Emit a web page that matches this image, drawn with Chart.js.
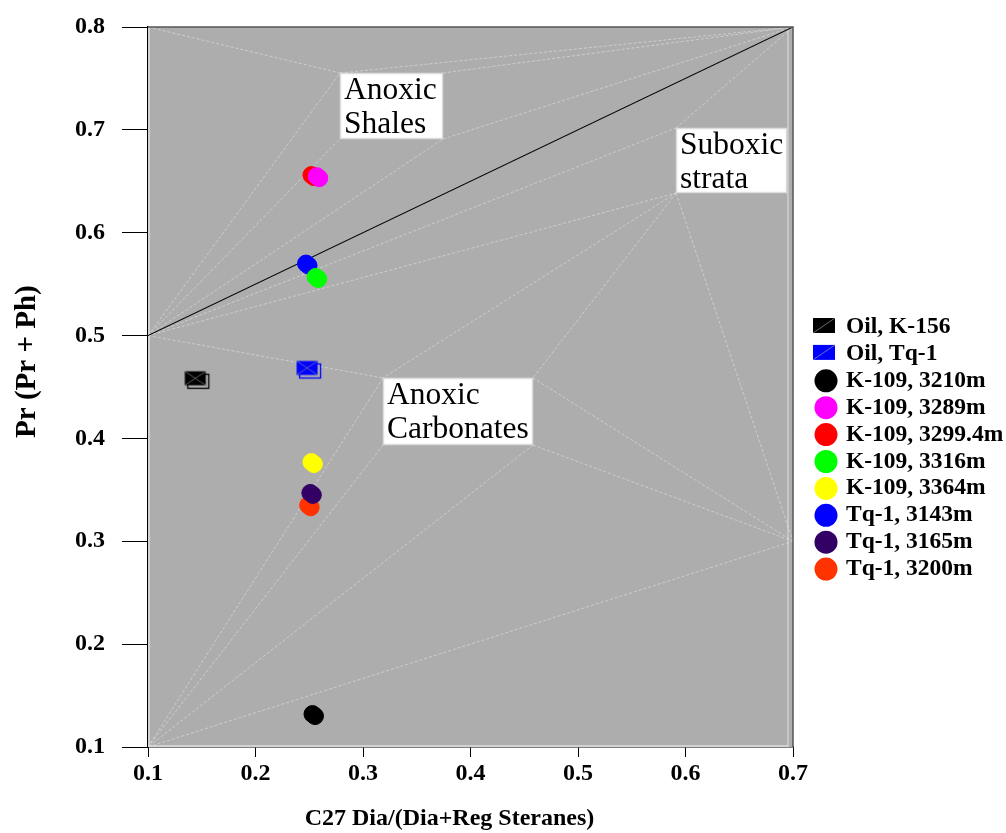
<!DOCTYPE html>
<html>
<head>
<meta charset="utf-8">
<script src="https://cdn.jsdelivr.net/npm/chart.js@4.4.1/dist/chart.umd.min.js"></script>
<style>
html,body{margin:0;padding:0;background:#ffffff;}
#wrap{width:1006px;height:833px;position:relative;}
</style>
</head>
<body>
<div id="wrap"><canvas id="c" width="1006" height="833"></canvas></div>
<script>
// ---------------- DATA ----------------
const sampleLabels = ["Oil, K-156","Oil, Tq-1","K-109, 3210m","K-109, 3289m","K-109, 3299.4m","K-109, 3316m","K-109, 3364m","Tq-1, 3143m","Tq-1, 3165m","Tq-1, 3200m"];
const sampleX = [0.144, 0.248, 0.253, 0.257, 0.252, 0.256, 0.252, 0.247, 0.251, 0.249];
const sampleY = [0.458, 0.468, 0.132, 0.655, 0.656, 0.557, 0.377, 0.570, 0.347, 0.335];
const sampleColors = ["#000000","#0000ff","#000000","#ff00ff","#ff0000","#00ff00","#ffff00","#0000ff","#330066","#ff3300"];
const sampleShapes = ["square","square","circle","circle","circle","circle","circle","circle","circle","circle"];

const xTickValues = [0.1,0.2,0.3,0.4,0.5,0.6,0.7];
const yTickValues = [0.1,0.2,0.3,0.4,0.5,0.6,0.7,0.8];
const xTitle = "C27 Dia/(Dia+Reg Steranes)";
const yTitle = "Pr (Pr + Ph)";

// boundary line
const boundaryX = [0.1, 0.7];
const boundaryY = [0.5, 0.8];

// zone label boxes (data units)
const zoneLines = [["Anoxic","Shales"],["Suboxic","strata"],["Anoxic","Carbonates"]];
const zoneLeft   = [0.2786, 0.5912, 0.3186];
const zoneRight  = [0.3744, 0.6944, 0.4581];
const zoneTop    = [0.7553, 0.7018, 0.4588];
const zoneBottom = [0.6911, 0.6386, 0.3936];

// fixed anchor points for the faint leader lines (data units)
const anchorNames = ["TL","TR","L5","BL","R3"];
const anchorX = [0.1, 0.7, 0.1, 0.1, 0.7];
const anchorY = [0.8, 0.8, 0.5, 0.1, 0.3];
// leader segments: [from, to]; box corners as "S_tl" etc. (S=Shales, X=Suboxic, C=Carbonates)
const leaderFrom = ["TL","S_tl","S_tr","S_br","L5","L5","L5","L5","L5","X_tl","X_bl","X_bl","X_bl","L5","C_tl","C_bl","C_br","C_tr","C_br","BL","TR"];
const leaderTo   = ["S_tl","TR","TR","TR","S_tl","S_bl","S_br","X_tl","X_bl","TR","C_tl","C_tr","R3","C_tl","BL","BL","BL","R3","R3","R3","R3"];

// ---------------- BUILD ----------------
function pointOf(name){
  const ai = anchorNames.indexOf(name);
  if (ai >= 0) return {x: anchorX[ai], y: anchorY[ai]};
  const bi = ["S","X","C"].indexOf(name[0]);
  const corner = name.slice(2);
  return {
    x: corner[1] === "l" ? zoneLeft[bi] : zoneRight[bi],
    y: corner[0] === "t" ? zoneTop[bi] : zoneBottom[bi]
  };
}

function makeOilMarker(color){
  const c = document.createElement("canvas");
  c.width = 32; c.height = 24;
  const g = c.getContext("2d");
  g.strokeStyle = color; g.lineWidth = 1.3;
  g.strokeRect(8.5, 7.5, 21, 14);
  g.fillStyle = color;
  g.fillRect(5.5, 4.5, 21, 14);
  g.strokeStyle = "rgba(140,140,140,0.8)"; g.lineWidth = 0.8;
  g.beginPath();
  g.moveTo(5.5, 18.5); g.lineTo(26.5, 4.5);
  g.moveTo(5.5, 4.5); g.lineTo(26.5, 18.5);
  g.stroke();
  return c;
}

const datasets = [];
leaderFrom.forEach((f, i) => {
  datasets.push({
    label: "guide" + i, guide: true,
    data: [pointOf(f), pointOf(leaderTo[i])],
    showLine: true, borderColor: "rgba(226,226,226,0.75)", borderWidth: 0.8,
    borderDash: [3, 2],
    pointRadius: 0, order: 5
  });
});
datasets.push({
  label: "boundary", guide: true,
  data: boundaryX.map((x, i) => ({x: x, y: boundaryY[i]})),
  showLine: true, borderColor: "#000000", borderWidth: 1.1, pointRadius: 0, order: 4
});
sampleLabels.forEach((lab, i) => {
  const sq = sampleShapes[i] === "square";
  datasets.push({
    label: lab, sample: true, shape: sampleShapes[i], color: sampleColors[i],
    ghost: sq ? null : sampleColors[i],
    data: [{x: sampleX[i], y: sampleY[i]}],
    showLine: false,
    pointStyle: sq ? makeOilMarker(sampleColors[i]) : "circle",
    pointRadius: sq ? 10 : 8.5,
    backgroundColor: sampleColors[i], borderColor: sampleColors[i], borderWidth: 1,
    order: 1
  });
});

const serif = "'Liberation Serif','Times New Roman',serif";

const plotBg = {
  id: "plotBg",
  beforeDatasetsDraw(chart){
    const {ctx, chartArea: a} = chart;
    ctx.save();
    ctx.fillStyle = "#adadad";
    ctx.fillRect(a.left, a.top, a.right - a.left, a.bottom - a.top);
    ctx.strokeStyle = "#d2d2d2"; ctx.lineWidth = 2;
    ctx.beginPath();
    ctx.moveTo(a.left + 1, a.top); ctx.lineTo(a.left + 1, a.bottom - 1); ctx.lineTo(a.right - 5, a.bottom - 1);
    ctx.stroke();
    ctx.strokeStyle = "#e0e0e0"; ctx.lineWidth = 1;
    ctx.beginPath(); ctx.moveTo(a.right - 5, a.top); ctx.lineTo(a.right - 5, a.bottom); ctx.stroke();
    ctx.restore();
  },
  afterDatasetsDraw(chart){
    const {ctx, chartArea: a, scales} = chart;
    ctx.save();
    // top & right frame
    ctx.strokeStyle = "#555555"; ctx.lineWidth = 1.5;
    ctx.beginPath();
    ctx.moveTo(a.left, a.top); ctx.lineTo(a.right, a.top); ctx.lineTo(a.right, a.bottom);
    ctx.stroke();
    // zone boxes
    ctx.font = "31.5px " + serif;
    ctx.textBaseline = "alphabetic";
    ctx.textAlign = "left";
    zoneLines.forEach((lines, i) => {
      const x0 = scales.x.getPixelForValue(zoneLeft[i]);
      const x1 = scales.x.getPixelForValue(zoneRight[i]);
      const y0 = scales.y.getPixelForValue(zoneTop[i]);
      const y1 = scales.y.getPixelForValue(zoneBottom[i]);
      ctx.fillStyle = "#ffffff";
      ctx.fillRect(x0, y0, x1 - x0, y1 - y0);
      ctx.strokeStyle = "#dcdcdc"; ctx.lineWidth = 1.5;
      ctx.strokeRect(x0 + 0.5, y0 + 0.5, x1 - x0 - 1, y1 - y0 - 1);
      ctx.fillStyle = "#000000";
      lines.forEach((t, k) => ctx.fillText(t, x0 + 4, y0 + 26 + k * 34));
    });
    ctx.restore();
  }
};

const ghostPlugin = {
  id: "ghost",
  beforeDatasetDraw(chart, args){
    const ds = chart.data.datasets[args.index];
    if (ds.ghost){
      const ctx = chart.ctx;
      ctx.save();
      ctx.shadowColor = ds.ghost;
      ctx.shadowOffsetX = 2.5; ctx.shadowOffsetY = 2; ctx.shadowBlur = 0;
    }
  },
  afterDatasetDraw(chart, args){
    if (chart.data.datasets[args.index].ghost) chart.ctx.restore();
  }
};

const sideLegend = {
  id: "sideLegend",
  afterDraw(chart){
    const {ctx, chartArea: a} = chart;
    const items = chart.data.datasets.filter(d => d.sample);
    const mx = a.right + 32;       // marker centre
    const tx = a.right + 53;       // text start
    const y0 = a.top + 299;
    const step = 26.9;
    ctx.save();
    ctx.font = "bold 23.5px " + serif;
    ctx.textBaseline = "middle";
    ctx.textAlign = "left";
    items.forEach((d, i) => {
      const y = y0 + i * step;
      if (d.shape === "square"){
        ctx.fillStyle = d.color;
        ctx.fillRect(mx - 12, y - 8, 22, 15);
        ctx.strokeStyle = "rgba(150,150,150,0.9)"; ctx.lineWidth = 0.8;
        ctx.beginPath(); ctx.moveTo(mx - 12, y + 7); ctx.lineTo(mx + 10, y - 8); ctx.stroke();
      } else {
        ctx.fillStyle = d.color;
        ctx.beginPath(); ctx.arc(mx + 1, y + 1, 11.5, 0, Math.PI * 2); ctx.fill();
      }
      ctx.fillStyle = "#000000";
      ctx.fillText(d.label, tx, y + 1);
    });
    ctx.restore();
  }
};

new Chart(document.getElementById("c"), {
  type: "scatter",
  data: { datasets: datasets },
  options: {
    responsive: false,
    devicePixelRatio: 1,
    animation: false,
    events: [],
    layout: { padding: { top: 27, right: 213, bottom: 0, left: 0 } },
    plugins: { legend: { display: false }, tooltip: { enabled: false } },
    scales: {
      x: {
        type: "linear", position: "bottom", min: 0.1, max: 0.7,
        afterBuildTicks(s){ s.ticks = xTickValues.map(v => ({value: v})); },
        afterFit(s){ s.height = 86; },
        grid: { display: true, drawOnChartArea: false, drawTicks: true, tickLength: 10, color: "#000000", lineWidth: 1 },
        border: { display: true, color: "#000000", width: 1.5 },
        ticks: { color: "#000000", padding: 2, font: { family: serif, size: 24, weight: "bold" },
                 callback: v => Number(v).toFixed(1) },
        title: { display: true, text: xTitle + "       ", color: "#000000",
                 font: { family: serif, size: 24, weight: "bold" }, padding: { top: 0, bottom: 0 } }
      },
      y: {
        type: "linear", position: "left", min: 0.1, max: 0.8,
        afterBuildTicks(s){ s.ticks = yTickValues.map(v => ({value: v})); },
        afterFit(s){ s.width = 148; s.paddingTop = 0; s.paddingBottom = 0; },
        grid: { display: true, drawOnChartArea: false, drawTicks: true, tickLength: 26, color: "#000000", lineWidth: 1 },
        border: { display: true, color: "#000000", width: 1.5 },
        ticks: { color: "#000000", padding: 17, font: { family: serif, size: 24, weight: "bold" },
                 callback: v => Number(v).toFixed(1) },
        title: { display: true, text: "       " + yTitle, color: "#000000",
                 font: { family: serif, size: 29, weight: "bold" }, padding: { top: 10, bottom: 0 } }
      }
    }
  },
  plugins: [plotBg, ghostPlugin, sideLegend]
});
</script>
</body>
</html>
